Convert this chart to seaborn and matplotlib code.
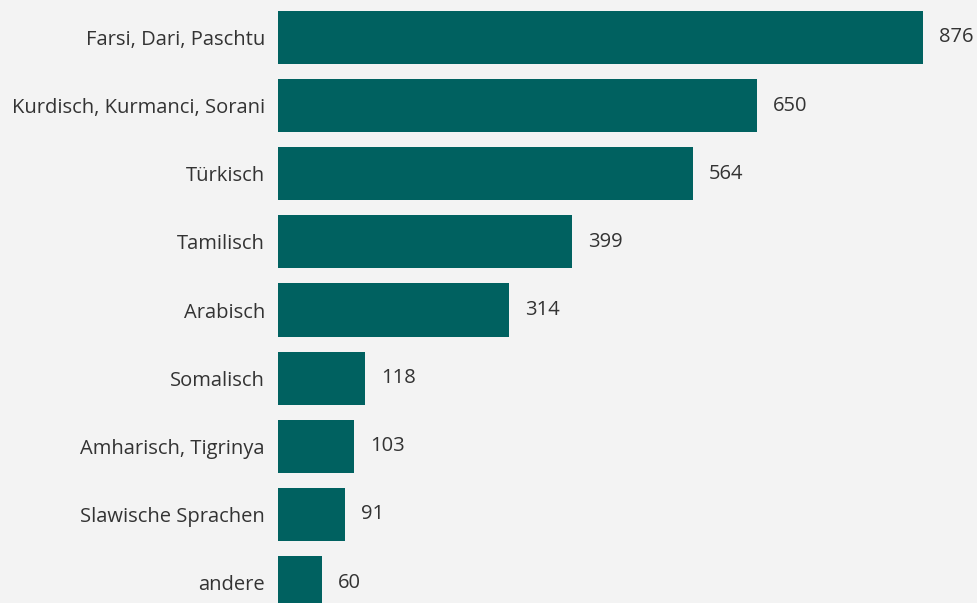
'''
Sprachen: horizontal bar chart of counts per language group
'''

import matplotlib.pyplot as plt
import seaborn as sns
import pandas as pd

languages = ["Farsi, Dari, Paschtu", "Kurdisch, Kurmanci, Sorani", "Türkisch",
             "Tamilisch", "Arabisch", "Somalisch", "Amharisch, Tigrinya",
             "Slawische Sprachen", "andere"]
counts = [876, 650, 564, 399, 314, 118, 103, 91, 60]

df = pd.DataFrame({"Sprache": languages, "Anzahl": counts})

sns.set_theme(style="white")
plt.rcParams['font.family'] = ['Open Sans', 'DejaVu Sans']

bg = "#f3f3f3"
fig = plt.figure(figsize=(9.78, 6.03), dpi=100, facecolor=bg)
# axes spans from the bar origin to the right edge, full height
ax = fig.add_axes([278 / 978, 0, 700 / 978, 1], facecolor=bg)

sns.barplot(data=df, x="Anzahl", y="Sprache", orient="h", color="#006160",
            saturation=1, width=0.78, linewidth=0, ax=ax)

for container in ax.containers:
    ax.bar_label(container, labels=[str(v) for v in counts], padding=11.5,
                 fontsize=14.5, color="#333333")

ax.set_xlim(0, 700 / 0.7363)
ax.set_ylim(8.3, -0.55)
ax.set_xlabel("")
ax.set_ylabel("")
ax.set_xticks([])
ax.tick_params(axis="y", length=0, pad=9.5, labelsize=14.5, labelcolor="#333333")
sns.despine(ax=ax, left=True, bottom=True)

fig.savefig("out.png", dpi=100, facecolor=bg)
